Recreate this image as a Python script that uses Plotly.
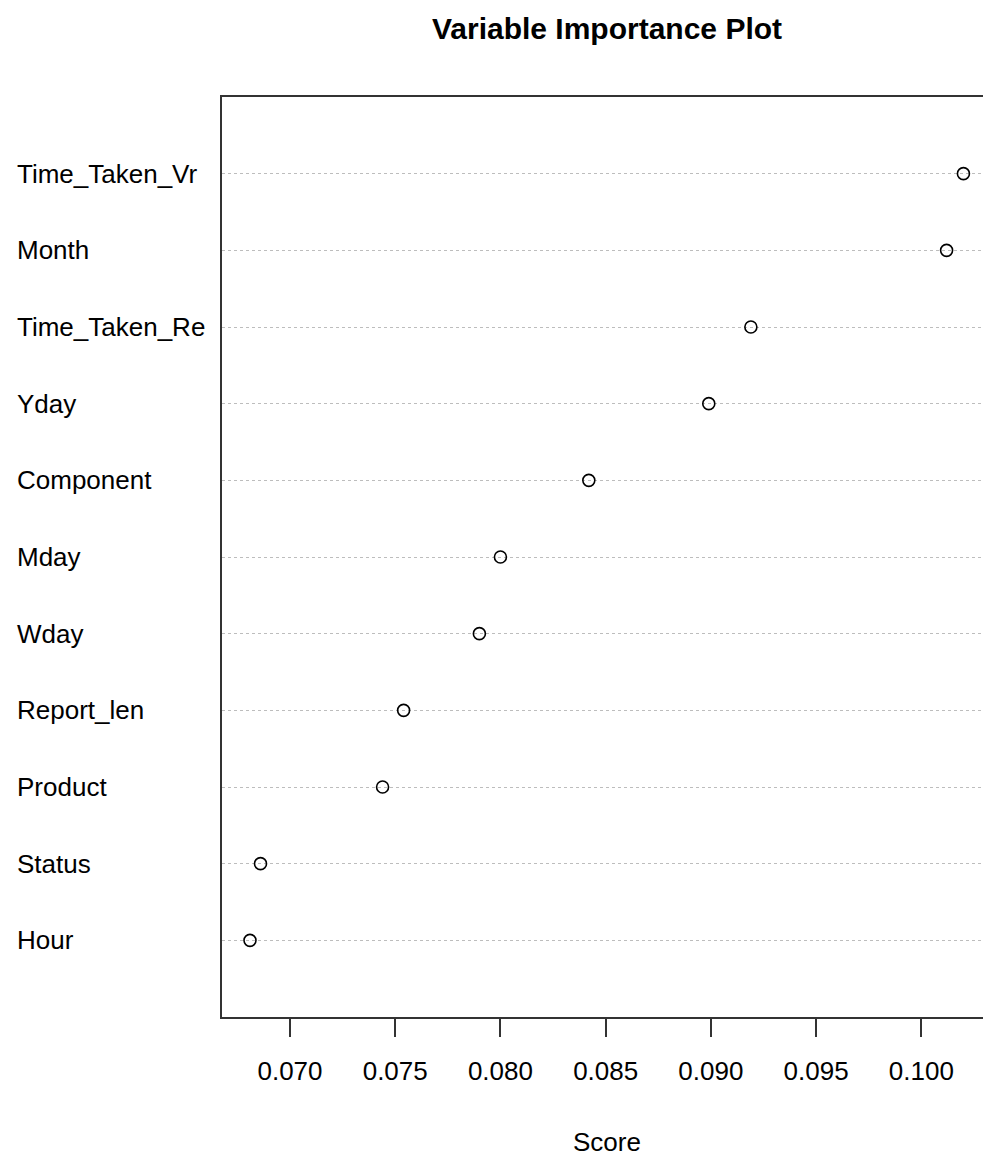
import plotly.graph_objects as go

# Variables ordered bottom -> top, as a dot chart draws them
variables = ["Hour", "Status", "Product", "Report_len", "Wday", "Mday",
             "Component", "Yday", "Time_Taken_Re", "Month", "Time_Taken_Vr"]
scores = [0.0681, 0.0686, 0.0744, 0.0754, 0.0790, 0.0800,
          0.0842, 0.0899, 0.0919, 0.1012, 0.1020]
x_ticks = [0.070, 0.075, 0.080, 0.085, 0.090, 0.095, 0.100]
x_tick_text = ["0.070", "0.075", "0.080", "0.085", "0.090", "0.095", "0.100"]

FONT = "Liberation Sans, Arial, sans-serif"
W, H = 983, 1159
ML, MR, MT, MB = 222, 0, 97, 142
plot_w = W - ML - MR
plot_h = H - MT - MB

positions = list(range(1, len(variables) + 1))

fig = go.Figure()
fig.add_trace(go.Scatter(
    x=scores, y=positions, mode="markers",
    marker=dict(symbol="circle-open", size=12, color="black",
                line=dict(width=1.6, color="black")),
    hoverinfo="skip", showlegend=False,
))

# Row labels, left aligned in the margin
for name, pos in zip(variables, positions):
    fig.add_annotation(
        x=-(ML - 15) / plot_w, xref="paper", y=pos, yref="y",
        text=name, showarrow=False, xanchor="left", yanchor="middle",
        font=dict(family=FONT, size=26, color="black"),
    )

# Axis title
fig.add_annotation(
    x=(607 - ML) / plot_w, xref="paper", y=-(1142 - (H - MB)) / plot_h, yref="paper",
    text="Score", showarrow=False, xanchor="center", yanchor="middle",
    font=dict(family=FONT, size=26, color="black"),
)

fig.update_layout(
    width=W, height=H,
    margin=dict(l=ML, r=MR, t=MT, b=MB),
    paper_bgcolor="white", plot_bgcolor="white",
    title=dict(text="<b>Variable Importance Plot</b>", x=607 / W, xref="container",
               xanchor="center", y=1 - 28 / H, yref="container", yanchor="middle",
               font=dict(family=FONT, size=30, color="black")),
    xaxis=dict(range=[0.06677, 0.10293], tickvals=x_ticks, ticktext=x_tick_text,
               ticks="outside", ticklen=18, tickwidth=1.6, tickcolor="#333",
               showline=True, linecolor="#333", linewidth=2, mirror=True,
               showgrid=False, zeroline=False, ticklabelstandoff=12,
               tickfont=dict(family=FONT, size=26, color="black")),
    yaxis=dict(range=[0, len(variables) + 1], tickvals=positions,
               showticklabels=False, ticks="",
               showline=True, linecolor="#333", linewidth=2, mirror=False,
               showgrid=True, gridcolor="#bdbdbd", gridwidth=1, griddash="dot",
               zeroline=False),
)

fig.write_html("out.html")
